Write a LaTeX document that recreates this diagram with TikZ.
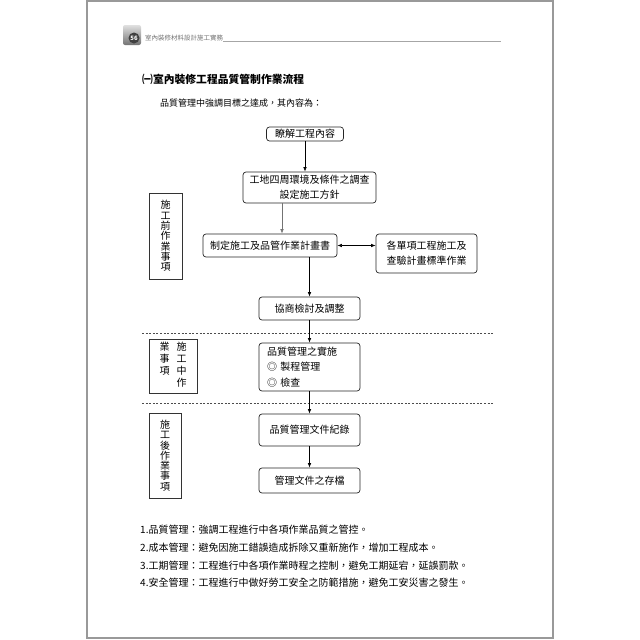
\documentclass[tikz,border=0pt]{standalone}
\usepackage{fontspec}
\setmainfont{Noto Sans CJK TC}
\usetikzlibrary{arrows.meta}

\begin{document}
\begin{tikzpicture}[x=1pt,y=-1pt,
  every node/.style={font=\fontsize{10}{15}\selectfont,inner sep=0pt},
  flowbox/.style={draw=black!85,rounded corners=3pt,line width=.7pt,align=center},
  sidebox/.style={draw=black!80,line width=.7pt,align=center,font=\fontsize{10}{10.3}\selectfont},
  flow/.style={-{Latex[length=4.5pt,width=3.5pt]},line width=.6pt},
  sep/.style={black!70,line width=.8pt,dash pattern=on 2pt off 1.6pt}]
\useasboundingbox (0,0) rectangle (640,640);
% page frame and running head
\draw[black!40,line width=1.2pt] (87,1) rectangle (553,638);
\shade[top color=black!12,bottom color=black!55,rounded corners=2pt] (123,25) rectangle (141,45);
\node[circle,fill=black!75,minimum size=11pt,text=white,font=\fontsize{6}{6}\selectfont\bfseries] (pg) at (134,38) {56};
\node[anchor=west,text=black!55,font=\fontsize{6.5}{7}\selectfont] (hdr) at (145,38) {室內裝修材料設計施工實務};
\draw[black!35,line width=.5pt] (hdr.south east) -- ++(278,0);
% heading
\node[anchor=west,font=\fontsize{10.8}{13}\selectfont\bfseries] (title) at (142,79) {㈠室內裝修工程品質管制作業流程};
\node[anchor=west,font=\fontsize{9}{11}\selectfont] (intro) at (160,103) {品質管理中強調目標之達成，其內容為：};
% flow boxes
\node[flowbox,minimum width=77,minimum height=14] (b1) at (305,134) {瞭解工程內容};
\node[flowbox,minimum width=133,minimum height=31] (b2) at (309.5,187.5) {工地四周環境及條件之調查\\設定施工方針};
\node[flowbox,minimum width=134,minimum height=23] (b3) at (270,245.5) {制定施工及品管作業計畫書};
\node[flowbox,minimum width=101,minimum height=39] (b4) at (426.5,253.5) {各單項工程施工及\\查驗計畫標準作業};
\node[flowbox,minimum width=101,minimum height=23] (b5) at (309.5,308.5) {協商檢討及調整};
\node[flowbox,align=left,text width=85,inner xsep=8pt,minimum height=48,font=\fontsize{10}{15.5}\selectfont] (b6) at (309.5,367) {品質管理之實施\\◎ 製程管理\\◎ 檢查};
\node[flowbox,minimum width=101,minimum height=32] (b7) at (309.5,430) {品質管理文件紀錄};
\node[flowbox,minimum width=101,minimum height=25] (b8) at (309.5,480.5) {管理文件之存檔};
% phase labels
\node[sidebox,minimum width=33,minimum height=86] (pre) at (165.5,236) {施\\工\\前\\作\\業\\事\\項};
\node[sidebox,minimum width=48,minimum height=54,font=\fontsize{10}{11.7}\selectfont] (mid) at (173,366) {\begin{tabular}{@{}c@{\hspace{7pt}}c@{}}業&施\\事&工\\項&中\\&作\end{tabular}};
\node[sidebox,minimum width=32,minimum height=85] (post) at (165,455.5) {施\\工\\後\\作\\業\\事\\項};
% separators
\draw[sep] (142,333) -- (493,333);
\draw[sep] (142,403) -- (493,403);
% arrows
\draw[flow] (b1.south) -- (b1.south |- b2.north);
\draw[flow,black!55] ([xshift=-27.5pt]b2.south) -- ([xshift=12pt]b3.north);
\draw[flow] (b5.north |- b3.south) -- (b5.north);
\draw[{Latex[length=4.5pt,width=3.5pt]}-{Latex[length=4.5pt,width=3.5pt]},line width=.6pt] (b3.east) -- (b3.east -| b4.west);
\foreach \a/\b in {b5/b6,b6/b7,b7/b8} \draw[flow] (\a) -- (\b);
% notes
\foreach \txt [count=\k] in {品質管理：強調工程進行中各項作業品質之管控。,成本管理：避免因施工錯誤造成拆除又重新施作，增加工程成本。,工期管理：工程進行中各項作業時程之控制，避免工期延宕，延誤罰款。,安全管理：工程進行中做好勞工安全之防範措施，避免工安災害之發生。}
  \node[anchor=west] (item\k) at (140,{530+(\k-1)*17.7}) {\k.\txt};
\end{tikzpicture}
\end{document}
